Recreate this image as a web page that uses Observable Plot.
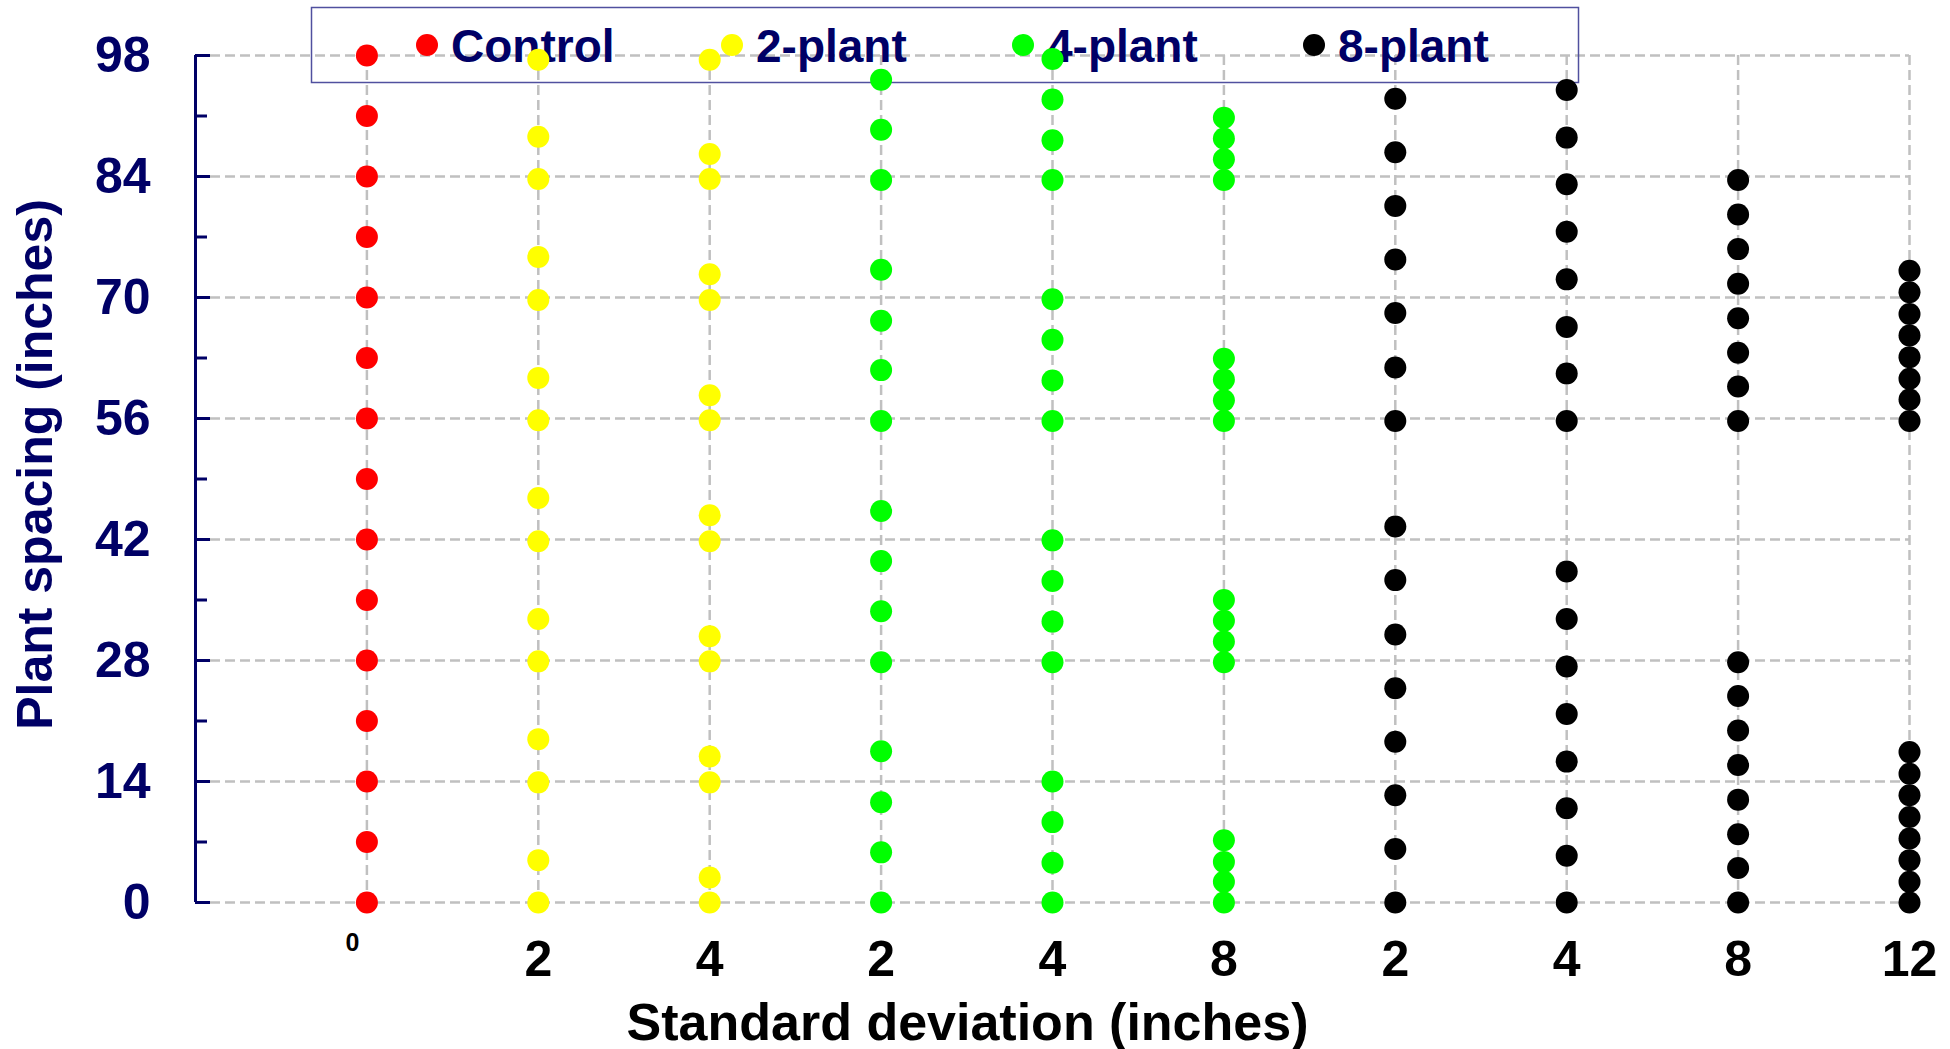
<!DOCTYPE html>
<html>
<head>
<meta charset="utf-8">
<script src="https://cdn.jsdelivr.net/npm/d3@7"></script>
<script src="https://cdn.jsdelivr.net/npm/@observablehq/plot@0.6"></script>
<style>
  html, body { margin: 0; padding: 0; background: #fff; overflow: hidden; }
  #chart svg { display: block; }
</style>
</head>
<body>
<div id="chart"></div>
<script>
// ---------- data ----------
const groups = ["Control", "2-plant", "4-plant", "8-plant"];
const groupColors = ["#ff0000", "#ffff00", "#00ff00", "#000000"];
const columnGroup = ["Control", "2-plant", "2-plant", "4-plant", "4-plant", "4-plant", "8-plant", "8-plant", "8-plant", "8-plant"];
const columnSD = ["0", "2", "4", "2", "4", "8", "2", "4", "8", "12"];
const yTicks = [0, 14, 28, 42, 56, 70, 84, 98];
const yMinorTicks = [7, 21, 35, 49, 63, 77, 91];
const xTitle = "Standard deviation (inches)";
const yTitle = "Plant spacing (inches)";

const control    = [0, 7, 14, 21, 28, 35, 42, 49, 56, 63, 70, 77, 84, 91, 98];
const plant2sd2  = [0, 4.9, 13.9, 18.9, 27.9, 32.8, 41.8, 46.8, 55.8, 60.7, 69.7, 74.7, 83.7, 88.6, 97.5];
const plant2sd4  = [0, 2.9, 13.9, 16.9, 27.9, 30.8, 41.8, 44.8, 55.8, 58.7, 69.7, 72.7, 83.7, 86.6, 97.5];
const plant4sd2  = [0, 5.8, 11.6, 17.5, 27.8, 33.7, 39.5, 45.3, 55.7, 61.6, 67.3, 73.2, 83.6, 89.4, 95.2];
const plant4sd4  = [0, 4.6, 9.3, 14.0, 27.8, 32.5, 37.2, 41.9, 55.7, 60.4, 65.1, 69.8, 83.6, 88.2, 92.9, 97.6];
const plant4sd8  = [0, 2.4, 4.7, 7.2, 27.8, 30.2, 32.6, 35.0, 55.7, 58.1, 60.5, 62.9, 83.6, 86.0, 88.4, 90.8];
const plant8sd2  = [0, 6.2, 12.4, 18.6, 24.8, 31.0, 37.3, 43.5, 55.7, 61.9, 68.2, 74.4, 80.6, 86.8, 93.0];
const plant8sd4  = [0, 5.4, 10.9, 16.3, 21.8, 27.3, 32.8, 38.3, 55.7, 61.2, 66.6, 72.1, 77.6, 83.1, 88.5, 94.0];
const plant8sd8  = [0, 4.0, 7.9, 11.9, 15.9, 19.9, 23.9, 27.8, 55.7, 59.7, 63.6, 67.6, 71.6, 75.6, 79.6, 83.6];
const plant8sd12 = [0, 2.4, 4.9, 7.4, 9.9, 12.4, 14.9, 17.4, 55.7, 58.2, 60.6, 63.1, 65.6, 68.1, 70.6, 73.1];

const seriesValues = [control, plant2sd2, plant2sd4, plant4sd2, plant4sd4, plant4sd8, plant8sd2, plant8sd4, plant8sd8, plant8sd12];

// ---------- build table ----------
const rows = [];
seriesValues.forEach((vals, i) => vals.forEach(v => rows.push({col: i, group: columnGroup[i], value: v})));
const colIdx = columnSD.map((_, i) => i);

const navy = "#000066";
const font = "'Liberation Sans', Arial, Helvetica, sans-serif";

function legendMark(index, scales) {
  const g = d3.create("svg:g").attr("font-family", font).attr("font-weight", "bold").attr("text-anchor", "start");
  g.append("rect")
    .attr("x", 311.5).attr("y", 7.5).attr("width", 1267).attr("height", 75)
    .attr("fill", "none").attr("stroke", "#50509f").attr("stroke-width", 1.5);
  const itemX = [427, 732, 1023, 1314];
  groups.forEach((name, i) => {
    const fill = scales && scales.color ? scales.color(name) : groupColors[i];
    g.append("circle").attr("cx", itemX[i]).attr("cy", 45).attr("r", 11).attr("fill", fill);
    g.append("text").attr("x", itemX[i] + 24).attr("y", 62).attr("text-anchor", "start")
      .attr("font-size", 46).attr("fill", navy).text(name);
  });
  return g.node();
}

const gridStyle = {stroke: "#c0c0c0", strokeOpacity: 1, strokeWidth: 2.5, strokeDasharray: "10,5"};

const chart = Plot.plot({
  width: 1950,
  height: 1049,
  marginLeft: 195,
  marginRight: 41,
  marginTop: 55,
  marginBottom: 147,
  style: {fontFamily: font, background: "white", overflow: "visible"},
  x: {type: "linear", domain: [-1, 9], axis: null},
  y: {type: "linear", domain: [0, 98]},
  color: {domain: groups, range: groupColors},
  marks: [
    Plot.gridX(colIdx, gridStyle),
    Plot.gridY(yTicks, gridStyle),
    legendMark,
    Plot.dot(rows, {x: "col", y: "value", r: 11, fill: "group", stroke: "none"}),
    Plot.ruleX([-1], {stroke: navy, strokeWidth: 3}),
    Plot.axisY(yTicks, {anchor: "left", tickSize: 15, dx: 15, fill: "none", stroke: navy, strokeWidth: 3, label: null}),
    Plot.axisY(yMinorTicks, {anchor: "left", tickSize: 12, dx: 12, fill: "none", stroke: navy, strokeWidth: 3, label: null}),
    Plot.axisY(yTicks, {anchor: "left", tickSize: 0, tickPadding: 45, fontSize: 50, fontWeight: "bold", fill: navy, label: null}),
    Plot.axisX(colIdx.slice(1), {anchor: "bottom", tickSize: 0, tickPadding: 38, tickFormat: i => columnSD[i], fontSize: 50, fontWeight: "bold", fill: "black", label: null}),
    Plot.axisX(colIdx.slice(0, 1), {anchor: "bottom", tickSize: 0, tickPadding: 30.5, dx: -14.5, tickFormat: i => columnSD[i], fontSize: 25, fontWeight: "bold", fill: "black", label: null}),
    Plot.text([xTitle], {text: d => d, frameAnchor: "bottom", textAnchor: "middle", dx: -85, dy: 120.5, fontSize: 52, fontWeight: "bold", fill: "black", lineAnchor: "middle"}),
    Plot.text([yTitle], {text: d => d, frameAnchor: "left", textAnchor: "middle", rotate: -90, dx: -160, dy: -14.5, fontSize: 50, fontWeight: "bold", fill: navy, lineAnchor: "middle"})
  ]
});

document.getElementById("chart").appendChild(chart);
</script>
</body>
</html>
